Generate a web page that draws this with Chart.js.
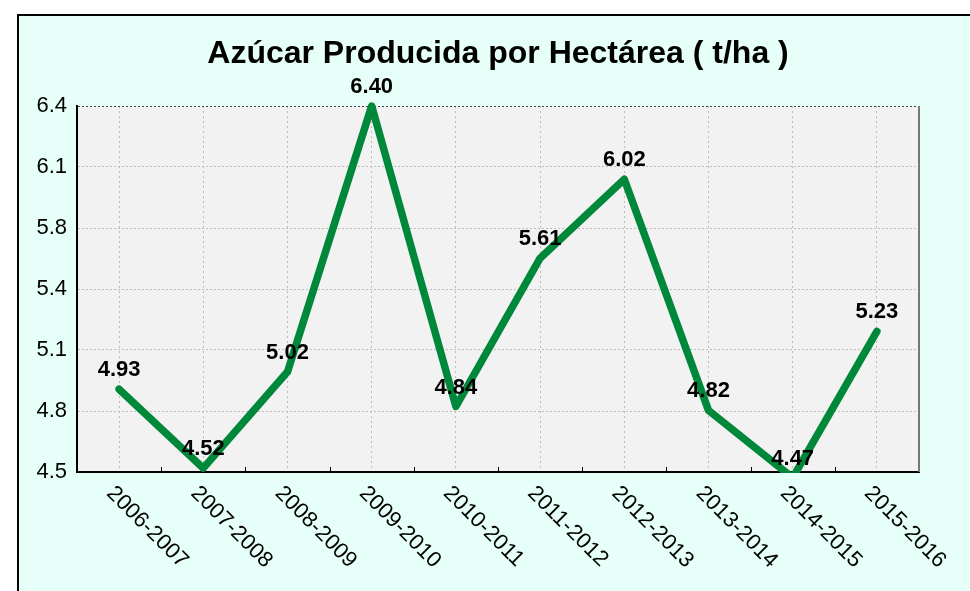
<!DOCTYPE html>
<html>
<head>
<meta charset="utf-8">
<style>
  html, body { margin: 0; padding: 0; background: #ffffff; }
  #wrap { position: relative; width: 970px; height: 591px; }
</style>
<script src="https://cdn.jsdelivr.net/npm/chart.js@4"></script>
</head>
<body>
<div id="wrap"><canvas id="c" width="970" height="591"></canvas></div>
<script>
const categories = ['2006-2007','2007-2008','2008-2009','2009-2010','2010-2011','2011-2012','2012-2013','2013-2014','2014-2015','2015-2016'];
const sugarPerHectare = [4.93, 4.52, 5.02, 6.40, 4.84, 5.61, 6.02, 4.82, 4.47, 5.23];
const yTickLabels = ['4.5','4.8','5.1','5.4','5.8','6.1','6.4'];
const yMin = 4.5;
const yMax = 6.4;
const titleText = 'Azúcar Producida por Hectárea ( t/ha )';

const FONT = "'Liberation Sans', Arial, Helvetica, sans-serif";

const backgroundPlugin = {
  id: 'bg',
  beforeDraw(chart) {
    const ctx = chart.ctx, a = chart.chartArea;
    ctx.save();
    ctx.fillStyle = '#ffffff';
    ctx.fillRect(0, 0, chart.width, chart.height);
    ctx.fillStyle = '#E6FFF9';
    ctx.fillRect(18, 15, chart.width, chart.height);
    ctx.strokeStyle = '#000000';
    ctx.lineWidth = 2;
    ctx.beginPath();
    ctx.moveTo(18, chart.height + 5);
    ctx.lineTo(18, 15);
    ctx.lineTo(chart.width + 5, 15);
    ctx.stroke();
    ctx.fillStyle = '#F2F2F2';
    ctx.fillRect(a.left, a.top, a.right - a.left, a.bottom - a.top);
    ctx.restore();
  }
};

const decorPlugin = {
  id: 'decor',
  afterDraw(chart) {
    const ctx = chart.ctx, a = chart.chartArea;
    const xs = chart.scales.x;
    ctx.save();
    // right frame of plot
    ctx.strokeStyle = '#777777';
    ctx.lineWidth = 2;
    ctx.beginPath();
    ctx.moveTo(a.right, a.top);
    ctx.lineTo(a.right, a.bottom);
    ctx.stroke();
    // tick marks at category boundaries
    const step = xs.getPixelForValue(1) - xs.getPixelForValue(0);
    ctx.strokeStyle = '#000000';
    ctx.lineWidth = 1;
    for (let i = 0; i < categories.length - 1; i++) {
      const bx = Math.round(xs.getPixelForValue(i) + step / 2) + 0.5;
      ctx.beginPath();
      ctx.moveTo(bx, a.bottom);
      ctx.lineTo(bx, a.bottom - 5);
      ctx.stroke();
    }
    // rotated category labels
    ctx.fillStyle = '#000000';
    ctx.font = '22px ' + FONT;
    ctx.textAlign = 'left';
    ctx.textBaseline = 'middle';
    categories.forEach((lab, i) => {
      const x = xs.getPixelForValue(i);
      ctx.save();
      ctx.translate(x - 9, a.bottom + 18);
      ctx.rotate(Math.PI / 4);
      ctx.fillText(lab, 0, 0);
      ctx.restore();
    });
    // data labels
    const meta = chart.getDatasetMeta(0);
    ctx.font = 'bold 22px ' + FONT;
    ctx.textAlign = 'center';
    ctx.textBaseline = 'middle';
    meta.data.forEach((pt, i) => {
      ctx.fillText(sugarPerHectare[i].toFixed(2), pt.x, pt.y - 19);
    });
    ctx.restore();
  }
};

new Chart(document.getElementById('c'), {
  type: 'line',
  data: {
    labels: categories,
    datasets: [{
      data: sugarPerHectare,
      borderColor: '#00883A',
      borderWidth: 7.5,
      borderCapStyle: 'round',
      borderJoinStyle: 'round',
      pointRadius: 0,
      pointHoverRadius: 0,
      tension: 0,
      fill: false,
      clip: { left: false, top: false, right: false, bottom: 1 }
    }]
  },
  options: {
    responsive: false,
    animation: false,
    events: [],
    layout: { padding: { left: 0, right: 51, top: 20, bottom: 119 } },
    plugins: {
      legend: { display: false },
      tooltip: { enabled: false },
      title: {
        display: true,
        text: titleText,
        fullSize: false,
        color: '#000000',
        font: { family: FONT, size: 32, weight: 'bold', lineHeight: 1.2 },
        padding: { top: 15, bottom: 32.6 }
      }
    },
    scales: {
      x: {
        type: 'category',
        offset: true,
        grid: { display: true, offset: false, drawTicks: false, color: '#BDBDBD', lineWidth: 1 },
        border: { display: true, color: '#000000', width: 2, dash: [2, 3] },
        ticks: { display: false },
        afterFit(scale) { scale.height = 0; }
      },
      y: {
        min: yMin,
        max: yMax,
        grid: {
          drawTicks: false,
          lineWidth: 1,
          color: (c) => (c.index === yTickLabels.length - 1 ? '#444444' : '#BDBDBD')
        },
        border: { display: true, color: '#000000', width: 2, dash: [2, 2] },
        afterBuildTicks(scale) {
          const n = yTickLabels.length;
          scale.ticks = yTickLabels.map((_, i) => ({ value: yMin + i * (yMax - yMin) / (n - 1) }));
        },
        ticks: {
          padding: 10,
          color: '#000000',
          font: { family: FONT, size: 22 },
          callback: (v, i) => yTickLabels[i]
        },
        afterFit(scale) { scale.width = 77; }
      }
    }
  },
  plugins: [backgroundPlugin, decorPlugin]
});
</script>
</body>
</html>
